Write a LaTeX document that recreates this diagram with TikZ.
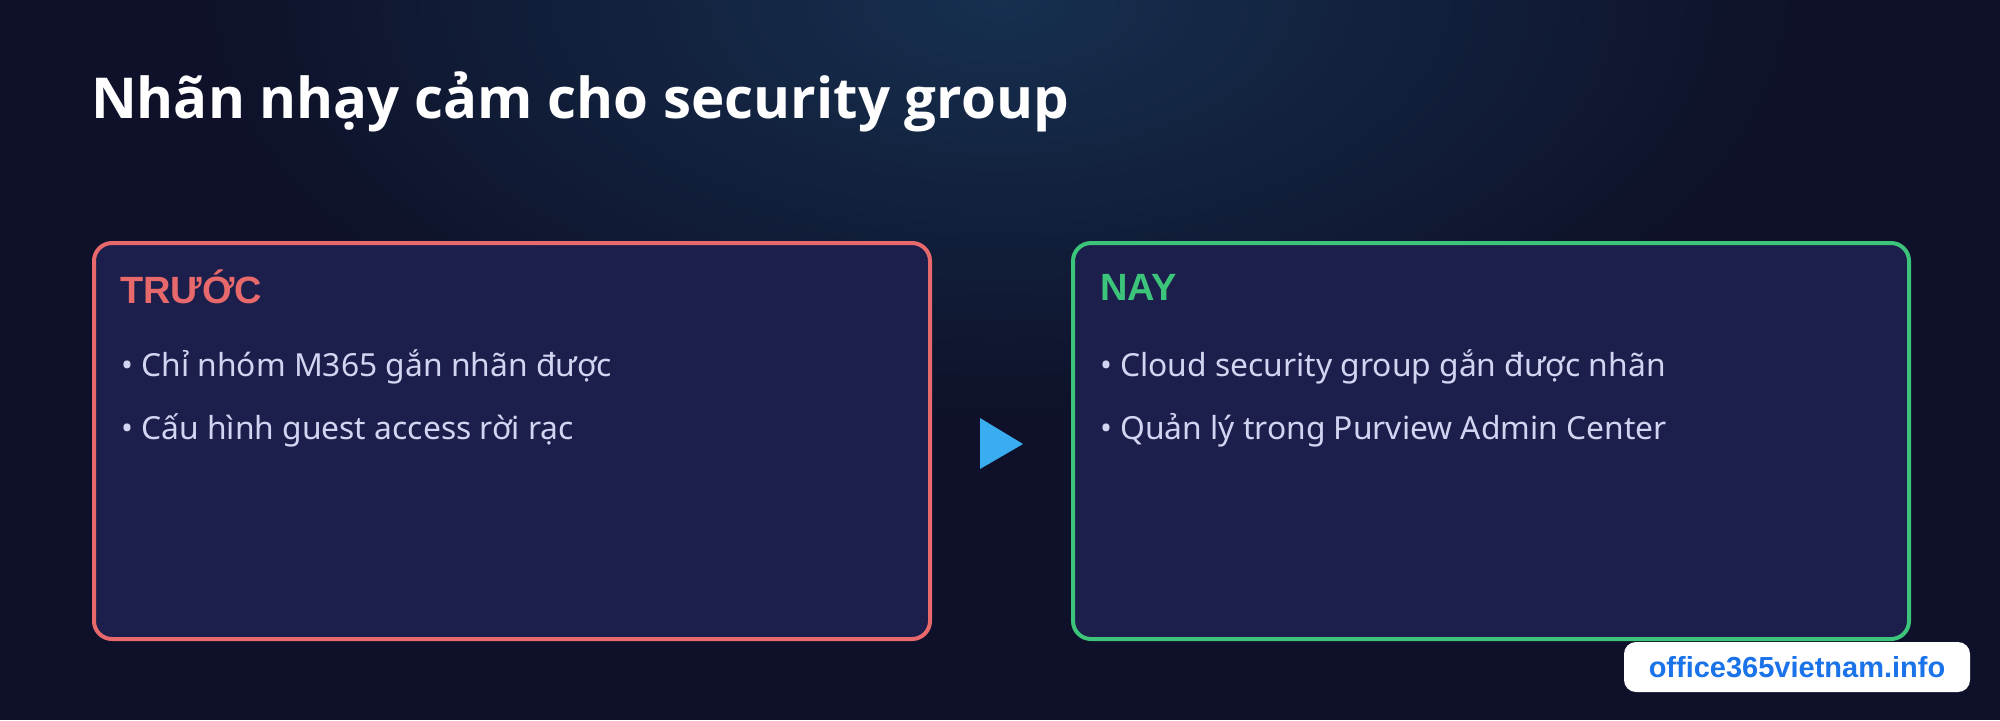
\documentclass[tikz,border=0pt]{standalone}
\usepackage{fontspec}
\setmainfont{Noto Sans}
\newfontfamily\headfont{Liberation Sans}
\newfontfamily\titlefont{Open Sans}
\usetikzlibrary{shapes.geometric, positioning}
\definecolor{bgdark}{HTML}{0E1129}
\definecolor{bgglow}{HTML}{16304F}
\definecolor{boxfill}{HTML}{1C1E4B}
\definecolor{oldred}{HTML}{E8696B}
\definecolor{newgreen}{HTML}{3CC47A}
\definecolor{itemtext}{HTML}{D2D5F2}
\definecolor{arrowblue}{HTML}{3AACF0}
\definecolor{linkblue}{HTML}{1A73E8}
\begin{document}
\begin{tikzpicture}[x=0.5pt,y=-0.5pt,
      panel/.style={draw,line width=2pt,fill=boxfill,rounded corners=9pt,
        minimum width=418pt,minimum height=198pt,anchor=north west},
      head node/.style={anchor=west,font=\headfont\bfseries\fontsize{19}{22}\selectfont},
      item node/.style={anchor=west,text=itemtext,font=\fontsize{15.9}{18}\selectfont}]
    \useasboundingbox (0,0) rectangle (2000,720);
    \fill[bgdark] (0,0) rectangle (2000,720);
    \begin{scope}
      \clip (0,0) rectangle (2000,720);
      \shade[inner color=bgglow,outer color=bgdark] (1000,0) ellipse [x radius=800,y radius=420];
    \end{scope}

    \node[anchor=west,text=white,font=\titlefont\bfseries\fontsize{28.2}{34}\selectfont]
      (title) at (84,102) {Nhãn nhạy cảm cho security group};

    \node[panel,draw=oldred] (old) at (92,241) {};
    \node[panel,draw=newgreen] (new) at (1071,241) {};

    \node[head node,text=oldred] (oldhead) at (113,287) {TRƯỚC};
    \node[item node] (old1) at (114,367) {• Chỉ nhóm M365 gắn nhãn được};
    \node[item node] (old2) at (114,430) {• Cấu hình guest access rời rạc};

    \node[head node,text=newgreen] (newhead) at (1093,287) {NAY};
    \node[item node] (new1) at (1093,367) {• Cloud security group gắn được nhãn};
    \node[item node] (new2) at (1093,430) {• Quản lý trong Purview Admin Center};

    \fill[arrowblue] (980,418) -- (1023,444) -- (980,469) -- cycle;

    \node[fill=white,rounded corners=6pt,minimum width=173pt,minimum height=25pt,
      text=linkblue,font=\headfont\bfseries\fontsize{14.5}{16}\selectfont]
      (site) at (1797,667) {office365vietnam.info};
\end{tikzpicture}
\end{document}
